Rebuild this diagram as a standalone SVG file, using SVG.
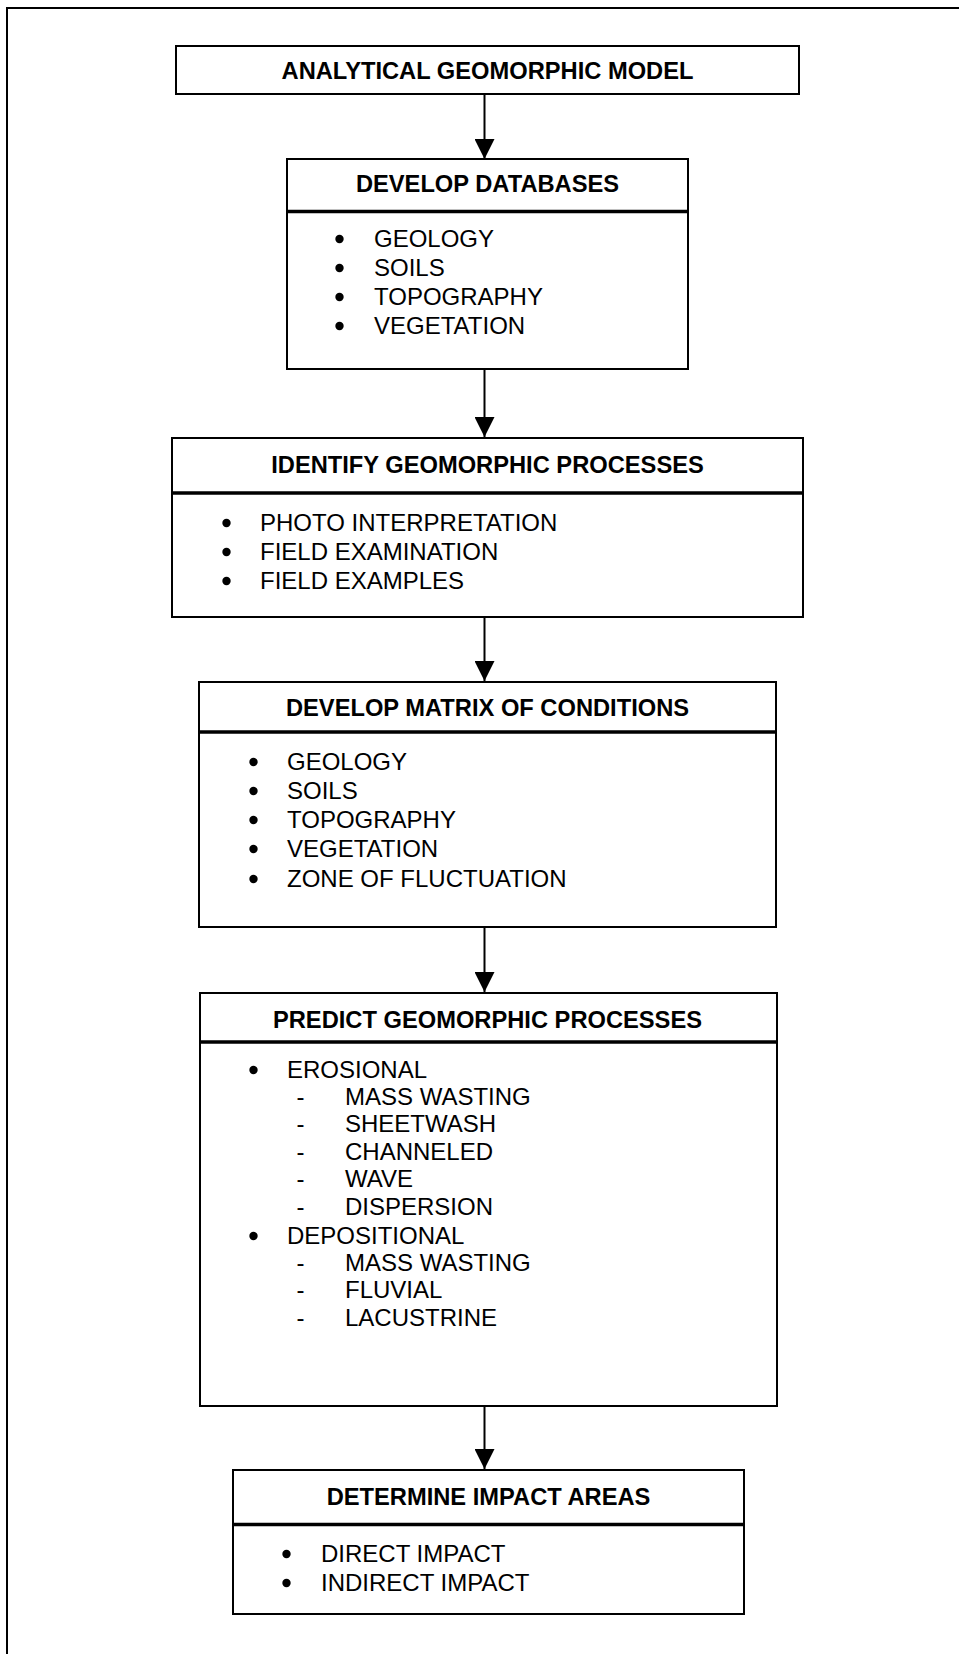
<svg xmlns="http://www.w3.org/2000/svg" width="959" height="1654" viewBox="0 0 959 1654">
<defs>
<style>
.box{fill:#fff;stroke:#000;stroke-width:2}
.div{stroke:#000;stroke-width:3.5}
.frame{fill:none;stroke:#000;stroke-width:2}
.title{font-family:"Liberation Sans",Arial,sans-serif;font-weight:bold;font-size:23.7px;text-anchor:middle;fill:#000}
.item{font-family:"Liberation Sans",Arial,sans-serif;font-size:24px;fill:#000}
.mark{font-family:"Liberation Sans",Arial,sans-serif;font-size:24px;text-anchor:middle;fill:#000}
.dot{fill:#000}
.conn{stroke:#000;stroke-width:2;fill:none}
</style>
<marker id="arrow" markerWidth="20" markerHeight="20" refX="20" refY="10" orient="auto" markerUnits="userSpaceOnUse">
<path d="M0,0 L20,10 L0,20 Z" fill="#000"/>
</marker>
</defs>
<rect x="0" y="0" width="959" height="1654" fill="#fff"/>
<rect class="frame" x="7" y="8" width="1000" height="1700"/>

<g id="connectors">
<line class="conn" x1="484.5" y1="94" x2="484.5" y2="159" marker-end="url(#arrow)"/>
<line class="conn" x1="484.5" y1="369" x2="484.5" y2="437" marker-end="url(#arrow)"/>
<line class="conn" x1="484.5" y1="617" x2="484.5" y2="681" marker-end="url(#arrow)"/>
<line class="conn" x1="484.5" y1="927" x2="484.5" y2="992" marker-end="url(#arrow)"/>
<line class="conn" x1="484.5" y1="1406" x2="484.5" y2="1469" marker-end="url(#arrow)"/>
</g>

<g id="node-model">
<rect class="box" x="176" y="46" width="623" height="48"/>
<text class="title" x="487.5" y="79">ANALYTICAL GEOMORPHIC MODEL</text>
</g>

<g id="node-databases">
<rect class="box" x="287" y="159" width="401" height="210"/>
<line class="div" x1="287" y1="211.5" x2="688" y2="211.5"/>
<text class="title" x="487.5" y="192">DEVELOP DATABASES</text>
<circle class="dot" cx="339.5" cy="239" r="4.2"/><text class="item" x="374" y="247">GEOLOGY</text>
<circle class="dot" cx="339.5" cy="268" r="4.2"/><text class="item" x="374" y="276">SOILS</text>
<circle class="dot" cx="339.5" cy="297" r="4.2"/><text class="item" x="374" y="305">TOPOGRAPHY</text>
<circle class="dot" cx="339.5" cy="326" r="4.2"/><text class="item" x="374" y="334">VEGETATION</text>
</g>

<g id="node-identify">
<rect class="box" x="172" y="438" width="631" height="179"/>
<line class="div" x1="172" y1="493" x2="803" y2="493"/>
<text class="title" x="487.5" y="473">IDENTIFY GEOMORPHIC PROCESSES</text>
<circle class="dot" cx="226.5" cy="523" r="4.2"/><text class="item" x="260" y="531">PHOTO INTERPRETATION</text>
<circle class="dot" cx="226.5" cy="552" r="4.2"/><text class="item" x="260" y="560">FIELD EXAMINATION</text>
<circle class="dot" cx="226.5" cy="581" r="4.2"/><text class="item" x="260" y="589">FIELD EXAMPLES</text>
</g>

<g id="node-matrix">
<rect class="box" x="199" y="682" width="577" height="245"/>
<line class="div" x1="199" y1="732" x2="776" y2="732"/>
<text class="title" x="487.5" y="716">DEVELOP MATRIX OF CONDITIONS</text>
<circle class="dot" cx="253.5" cy="762" r="4.2"/><text class="item" x="287" y="770">GEOLOGY</text>
<circle class="dot" cx="253.5" cy="791" r="4.2"/><text class="item" x="287" y="799">SOILS</text>
<circle class="dot" cx="253.5" cy="820" r="4.2"/><text class="item" x="287" y="828">TOPOGRAPHY</text>
<circle class="dot" cx="253.5" cy="849" r="4.2"/><text class="item" x="287" y="857">VEGETATION</text>
<circle class="dot" cx="253.5" cy="879" r="4.2"/><text class="item" x="287" y="887">ZONE OF FLUCTUATION</text>
</g>

<g id="node-predict">
<rect class="box" x="200" y="993" width="577" height="413"/>
<line class="div" x1="200" y1="1042" x2="777" y2="1042"/>
<text class="title" x="487.5" y="1028">PREDICT GEOMORPHIC PROCESSES</text>
<circle class="dot" cx="253.5" cy="1070" r="4.2"/><text class="item" x="287" y="1078">EROSIONAL</text>
<text class="mark" x="300.5" y="1105">-</text><text class="item" x="345" y="1105">MASS WASTING</text>
<text class="mark" x="300.5" y="1132">-</text><text class="item" x="345" y="1132">SHEETWASH</text>
<text class="mark" x="300.5" y="1160">-</text><text class="item" x="345" y="1160">CHANNELED</text>
<text class="mark" x="300.5" y="1187">-</text><text class="item" x="345" y="1187">WAVE</text>
<text class="mark" x="300.5" y="1215">-</text><text class="item" x="345" y="1215">DISPERSION</text>
<circle class="dot" cx="253.5" cy="1236" r="4.2"/><text class="item" x="287" y="1244">DEPOSITIONAL</text>
<text class="mark" x="300.5" y="1271">-</text><text class="item" x="345" y="1271">MASS WASTING</text>
<text class="mark" x="300.5" y="1298">-</text><text class="item" x="345" y="1298">FLUVIAL</text>
<text class="mark" x="300.5" y="1326">-</text><text class="item" x="345" y="1326">LACUSTRINE</text>
</g>

<g id="node-impact">
<rect class="box" x="233" y="1470" width="511" height="144"/>
<line class="div" x1="233" y1="1524.5" x2="744" y2="1524.5"/>
<text class="title" x="488.5" y="1505">DETERMINE IMPACT AREAS</text>
<circle class="dot" cx="286.5" cy="1554" r="4.2"/><text class="item" x="321" y="1562">DIRECT IMPACT</text>
<circle class="dot" cx="286.5" cy="1583" r="4.2"/><text class="item" x="321" y="1591">INDIRECT IMPACT</text>
</g>
</svg>
